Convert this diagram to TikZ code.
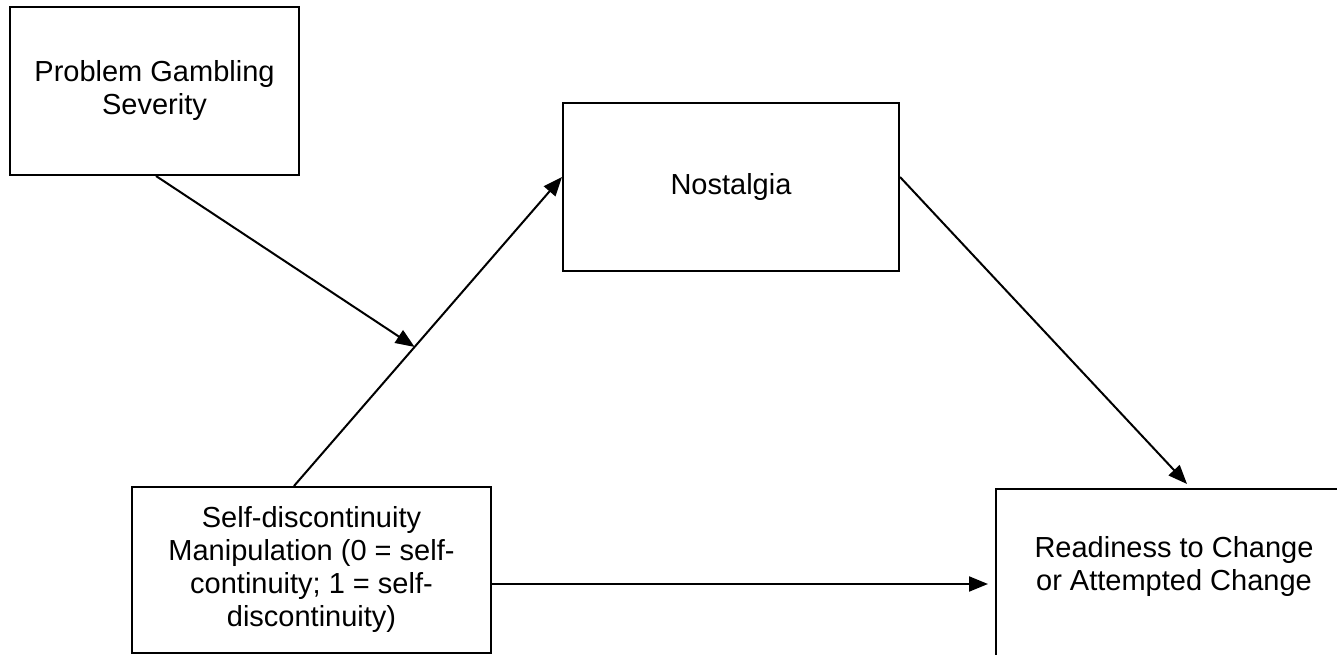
\documentclass[tikz,border=0pt]{standalone}
\usepackage{fontspec}
\setmainfont{Liberation Sans}
\usetikzlibrary{arrows.meta,calc}
\begin{document}
\begin{tikzpicture}[x=1pt,y=1pt,
  box/.style={draw, line width=2pt, inner sep=0pt, align=center,
    font=\fontsize{29}{33}\selectfont},
  lbl/.style={inner sep=0pt, align=center, font=\fontsize{29}{33}\selectfont},
  conn/.style={line width=2pt},
  arr/.style={conn, -{Triangle[length=19pt,width=15pt]}}]
\useasboundingbox (0,0) rectangle (1337,655);
\node[box, minimum width=289, minimum height=168] (gamb) at (154.5,564) {Problem Gambling\\Severity};
\node[box, minimum width=336, minimum height=168] (nost) at (731,468) {Nostalgia};
\node[box, minimum width=359, minimum height=166] (sd) at (311.5,85)
  {Self-discontinuity\\Manipulation (0 = self-\\continuity; 1 = self-\\discontinuity)};
\node[box, minimum width=420, minimum height=220, anchor=north west] (ready) at (995,167) {};
\node[lbl] (readytext) at (1174,88) {Readiness to Change\\or Attempted Change};
% named connector points
\coordinate (sdtop) at ($(sd.north west)+(163,0)$);
\coordinate (nostin) at ($(nost.west)+(0,10)$);
\coordinate (nostout) at ($(nost.east)+(0,10)$);
\coordinate (gambout) at ($(gamb.south west)+(147,0)$);
\coordinate (mid) at ($(sdtop)!0.45!(nostin)$);
\coordinate (readyin) at ($(ready.north west)+(192,4)$);
\coordinate (readyleft) at ($(ready.north west)+(-7,-96)$);
\coordinate (sdright) at ($(sd.east)+(0,-14)$);
\draw[arr] (sdtop) -- (nostin);
\draw[arr] (gambout) -- (mid);
\draw[arr] (nostout) -- (readyin);
\draw[arr] (sdright) -- (readyleft);
\end{tikzpicture}
\end{document}
